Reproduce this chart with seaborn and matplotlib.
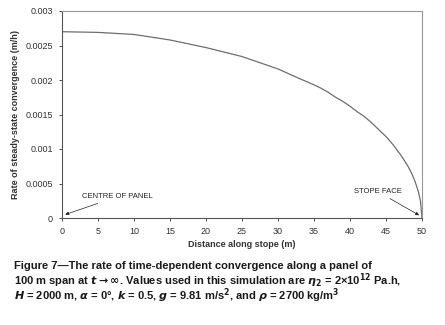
import matplotlib
matplotlib.use("Agg")
import matplotlib.pyplot as plt
import seaborn as sns
from matplotlib.ticker import FuncFormatter

# distance along stope (m) and convergence rate (m/h)
distance = [0, 5, 10, 15, 20, 25, 30, 33, 35, 36, 37, 38, 39, 40, 41, 42, 43, 44,
            45, 46, 47, 48, 48.5, 49, 49.5, 49.8, 50]
rate = [0.00270, 0.00269, 0.00266, 0.00258, 0.00247, 0.00234, 0.00216, 0.00202,
        0.00193, 0.00188, 0.00182, 0.00175, 0.00169, 0.00162, 0.00154, 0.00147,
        0.00138, 0.00128, 0.00118, 0.00106, 0.00092, 0.00076, 0.00066, 0.00054,
        0.00038, 0.00024, 0.0]

x_ticks = [0, 5, 10, 15, 20, 25, 30, 35, 40, 45, 50]
y_ticks = [0, 0.0005, 0.001, 0.0015, 0.002, 0.0025, 0.003]

sns.set_style("ticks")
narrow = ["Liberation Sans Narrow", "Liberation Sans", "DejaVu Sans"]
plt.rcParams["font.family"] = ["Liberation Sans", "DejaVu Sans"]
plt.rcParams["mathtext.fontset"] = "custom"
plt.rcParams["mathtext.rm"] = "Liberation Sans Narrow:bold"
plt.rcParams["mathtext.it"] = "Liberation Sans Narrow:italic:bold"
plt.rcParams["mathtext.bf"] = "Liberation Sans Narrow:bold"

fig = plt.figure(figsize=(4.45, 3.25), dpi=100)
ax = fig.add_axes([62 / 445, 1 - 218 / 325, 360 / 445, 207 / 325])

sns.lineplot(x=distance, y=rate, ax=ax, color="#6e6e6e", linewidth=0.9)

ax.set_xlim(0, 50)
ax.set_ylim(0, 0.003)
ax.set_xticks(x_ticks)
ax.set_yticks(y_ticks)
ax.yaxis.set_major_formatter(FuncFormatter(lambda v, p: "0" if v == 0 else f"{v:g}"))
ax.tick_params(labelsize=6.5, colors="#333333", length=2.5, width=0.6, pad=4)
for s in ["left", "bottom"]:
    ax.spines[s].set_color("#555555")
    ax.spines[s].set_linewidth(0.8)
for s in ["top", "right"]:
    ax.spines[s].set_visible(True)
    ax.spines[s].set_color("#999999")
    ax.spines[s].set_linewidth(0.8)

ax.set_xlabel("Distance along stope (m)", fontsize=6.5, fontweight="bold", color="#333333", labelpad=3)
ax.set_ylabel("Rate of steady-state convergence (m/h)", fontsize=6.5, fontweight="bold",
              color="#333333", labelpad=4)

arrow = dict(arrowstyle="-|>", color="#222222", lw=0.5, mutation_scale=5, shrinkA=0, shrinkB=0)
ax.annotate("CENTRE OF PANEL", xy=(0.45, 0.00005), xytext=(2.8, 0.00031),
            fontsize=5.5, color="#222222", va="center", ha="left", arrowprops=arrow)
ax.annotate("STOPE FACE", xy=(49.6, 0.00004), xytext=(43.9, 0.00038),
            fontsize=5.5, color="#222222", va="center", ha="center", arrowprops=arrow)

caption = [
    "Figure 7\u2014The rate of time-dependent convergence along a panel of",
    "100 m span at $t\\rightarrow\\infty$. Values used in this simulation are $\\eta_2$ = 2\u00d710$^{12}$ Pa.h,",
    "$H$ = 2000 m, $\\alpha$ = 0\u00b0, $k$ = 0.5, $g$ = 9.81 m/s$^2$, and $\\rho$ = 2700 kg/m$^3$",
]
for i, line in enumerate(caption):
    fig.text(14 / 445, 1 - (266 + 15 * i) / 325, line, fontsize=8, fontweight="bold",
             family=narrow, color="#1a1a1a", va="center", ha="left")

fig.savefig("out.png", dpi=100)
